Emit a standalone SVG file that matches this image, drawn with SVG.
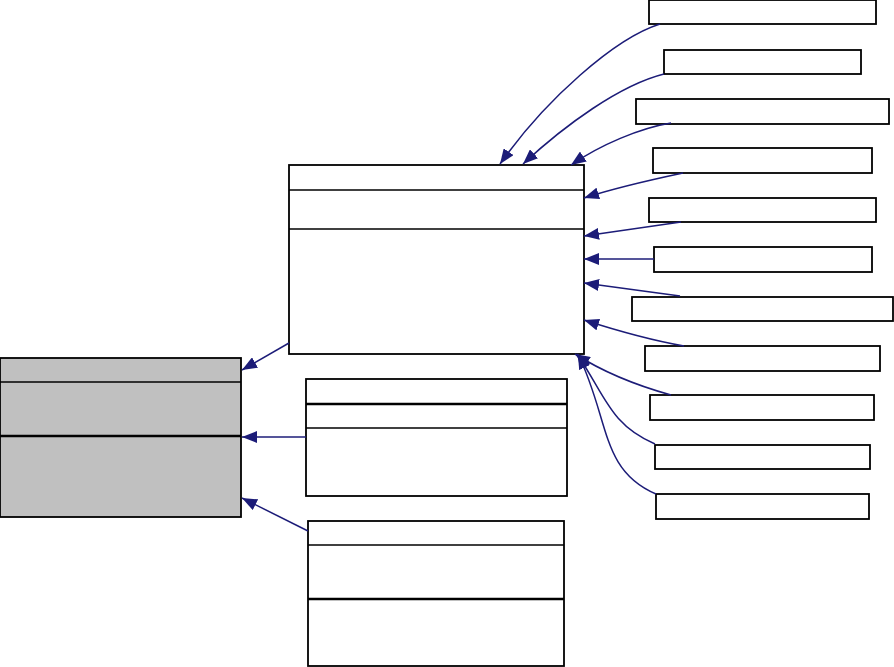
<svg xmlns="http://www.w3.org/2000/svg" width="894" height="667" viewBox="0 0 894 667">
<style>
.box{fill:#fff;stroke:#000;stroke-width:1.8}
.gray{fill:#c0c0c0;stroke:#000;stroke-width:1.8}
.div{stroke:#000;stroke-width:1.4}
.thick{stroke:#000;stroke-width:2.4}
.con{fill:none;stroke:#1c1c78;stroke-width:1.5}
</style>
<defs>
<marker id="ah" markerUnits="userSpaceOnUse" markerWidth="16" markerHeight="12" refX="15" refY="6" orient="auto">
<path d="M0,0 L15,6 L0,12 z" fill="#1c1c78"/>
</marker>
</defs>
<rect width="894" height="667" fill="#fff"/>
<g id="main">
<rect class="box" x="289" y="165" width="295" height="189"/>
<line class="div" x1="289" y1="190" x2="584" y2="190"/>
<line class="div" x1="289" y1="229" x2="584" y2="229"/>
</g>
<g id="base">
<rect class="gray" x="0" y="358" width="241" height="159"/>
<line class="div" x1="0" y1="382" x2="241" y2="382"/>
<line class="thick" x1="0" y1="436" x2="241" y2="436"/>
</g>
<g id="sub2">
<rect class="box" x="306" y="379" width="261" height="117"/>
<line class="thick" x1="306" y1="404" x2="567" y2="404"/>
<line class="div" x1="306" y1="428" x2="567" y2="428"/>
</g>
<g id="sub3">
<rect class="box" x="308" y="521" width="256" height="145"/>
<line class="div" x1="308" y1="545" x2="564" y2="545"/>
<line class="thick" x1="308" y1="599" x2="564" y2="599"/>
</g>
<g id="r1"><rect class="box" x="649" y="0" width="227" height="24"/></g>
<g id="r2"><rect class="box" x="664" y="50" width="197" height="24"/></g>
<g id="r3"><rect class="box" x="636" y="99" width="253" height="25"/></g>
<g id="r4"><rect class="box" x="653" y="148" width="219" height="25"/></g>
<g id="r5"><rect class="box" x="649" y="198" width="227" height="24"/></g>
<g id="r6"><rect class="box" x="654" y="247" width="218" height="25"/></g>
<g id="r7"><rect class="box" x="632" y="297" width="261" height="24"/></g>
<g id="r8"><rect class="box" x="645" y="346" width="235" height="25"/></g>
<g id="r9"><rect class="box" x="650" y="395" width="224" height="25"/></g>
<g id="r10"><rect class="box" x="655" y="445" width="215" height="24"/></g>
<g id="r11"><rect class="box" x="656" y="494" width="213" height="25"/></g>
<g id="connectors">
<path class="con" marker-end="url(#ah)" d="M660,24 C615,38 545,100 500,164"/>
<path class="con" marker-end="url(#ah)" d="M664,74 C620,85 565,125 523,164"/>
<path class="con" marker-end="url(#ah)" d="M671,123 C640,128 600,145 571,165"/>
<path class="con" marker-end="url(#ah)" d="M683,173 C650,180 615,188 584,198"/>
<path class="con" marker-end="url(#ah)" d="M681,222 L584,236"/>
<path class="con" marker-end="url(#ah)" d="M654,259 L584,259"/>
<path class="con" marker-end="url(#ah)" d="M680,296 L584,283"/>
<path class="con" marker-end="url(#ah)" d="M684,346 C650,340 615,330 584,320"/>
<path class="con" marker-end="url(#ah)" d="M671,395 C635,385 600,370 575,354"/>
<path class="con" marker-end="url(#ah)" d="M655,444 C610,425 605,395 577,354"/>
<path class="con" marker-end="url(#ah)" d="M656,494 C600,470 610,420 578,354"/>
<path class="con" marker-end="url(#ah)" d="M289,343 L242,370"/>
<path class="con" marker-end="url(#ah)" d="M306,437 L242,437"/>
<path class="con" marker-end="url(#ah)" d="M308,531 L242,498"/>
</g>
</svg>
